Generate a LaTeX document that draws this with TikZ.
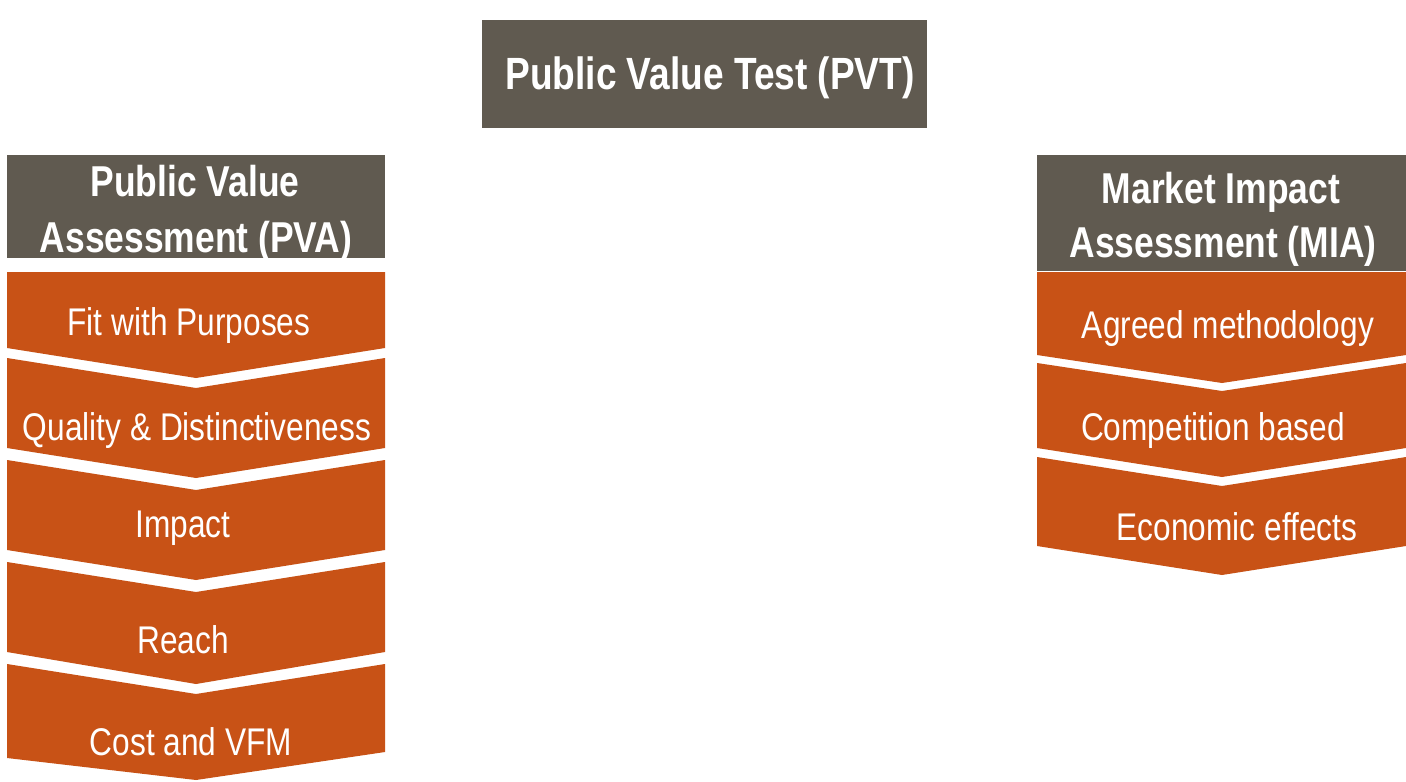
\documentclass[tikz,border=0pt]{standalone}
\usepackage{fontspec}
\setmainfont{Liberation Sans}
\newfontfamily\narrowfont[FakeStretch=0.82]{Liberation Sans}
\definecolor{hdrgray}{RGB}{96,90,80}
\definecolor{chevorange}{RGB}{200,82,22}
\begin{document}
\begin{tikzpicture}[x=0.5pt,y=-0.5pt,
  hdrbox/.style={fill=hdrgray},
  chev/.style={fill=chevorange},
  hdrtext/.style={text=white,inner sep=0pt,anchor=base,font=\narrowfont\bfseries\fontsize{21.6}{24}\selectfont},
  pvttext/.style={text=white,inner sep=0pt,anchor=base,font=\narrowfont\bfseries\fontsize{22.6}{25}\selectfont},
  chevtext/.style={text=white,inner sep=0pt,anchor=base,font=\narrowfont\fontsize{19.3}{22}\selectfont}]
\useasboundingbox[fill=white] (0,0) rectangle (1406,781);

% top box
\fill[hdrbox] (482,20) rectangle (927,128);
\node[pvttext] (pvt) at (710,90) {Public Value Test (PVT)};

% left column
\fill[hdrbox] (7,155) rectangle (385,258);
\node[hdrtext] (pva1) at (195,196) {Public Value};
\node[hdrtext] (pva2) at (196,252) {Assessment (PVA)};

\fill[chev] (7,272) -- (385,272) -- (385,348) -- (196,378) -- (7,348) -- cycle;
\fill[chev] (7,358) -- (196,388) -- (385,358) -- (385,448) -- (196,478) -- (7,448) -- cycle;
\fill[chev] (7,460) -- (196,490) -- (385,460) -- (385,550) -- (196,580) -- (7,550) -- cycle;
\fill[chev] (7,562) -- (196,592) -- (385,562) -- (385,652) -- (196,684) -- (7,652) -- cycle;
\fill[chev] (7,664) -- (196,694) -- (385,664) -- (385,752) -- (196,780) -- (7,758) -- cycle;

\node[chevtext] (fit) at (189,335) {Fit with Purposes};
\node[chevtext] (qual) at (197,440) {Quality \& Distinctiveness};
\node[chevtext] (imp) at (183,537) {Impact};
\node[chevtext] (reach) at (183,653) {Reach};
\node[chevtext] (cost) at (191,755) {Cost and VFM};

% right column
\fill[hdrbox] (1037,155) rectangle (1406,271);
\node[hdrtext] (mia1) at (1221,203) {Market Impact};
\node[hdrtext] (mia2) at (1223,257) {Assessment (MIA)};

\fill[chev] (1037,272) -- (1406,272) -- (1406,355) -- (1222,383) -- (1037,355) -- cycle;
\fill[chev] (1037,363) -- (1222,391) -- (1406,363) -- (1406,448) -- (1222,477) -- (1037,448) -- cycle;
\fill[chev] (1037,457) -- (1222,486) -- (1406,457) -- (1406,546) -- (1222,575) -- (1037,546) -- cycle;

\node[chevtext] (agreed) at (1228,338) {Agreed methodology};
\node[chevtext] (comp) at (1213,440) {Competition based};
\node[chevtext] (econ) at (1237,540) {Economic effects};
\end{tikzpicture}
\end{document}
